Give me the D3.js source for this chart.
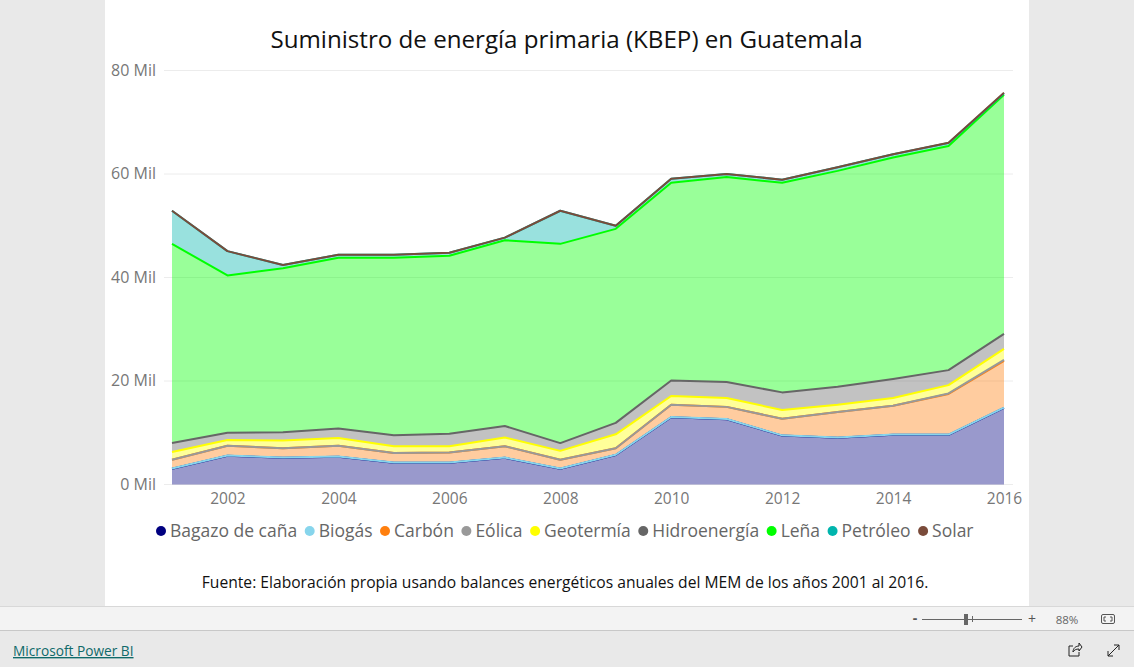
<!DOCTYPE html>
<html><head><meta charset="utf-8">
<script src="https://cdn.jsdelivr.net/npm/d3@7"></script>
<style>
html,body{margin:0;padding:0;background:#e9e9e9;overflow:hidden}
svg{display:block}
text{font-family:"Open Sans","Noto Sans",sans-serif}
</style></head><body>
<svg id="c" width="1134" height="667"></svg>
<script>
const years=[2001,2002,2003,2004,2005,2006,2007,2008,2009,2010,2011,2012,2013,2014,2015,2016];
const bagazo=[3.05,5.55,5.15,5.35,4.2,4.2,5.15,3.05,5.7,13.0,12.6,9.45,9.05,9.6,9.6,14.8];
const biogas=[0.05,0.05,0.05,0.05,0.05,0.05,0.05,0.05,0.05,0.05,0.05,0.05,0.05,0.05,0.05,0.05];
const carbon=[1.7,1.9,1.8,2.1,1.85,1.95,2.2,1.7,1.25,2.35,2.35,3.2,4.9,5.55,7.85,9.05];
const eolica=[0,0,0,0,0,0,0,0,0,0,0,0,0,0,0.1,0.2];
const geotermia=[1.5,1.1,1.5,1.5,1.3,1.2,1.7,1.7,2.7,1.7,1.7,1.7,1.4,1.5,1.6,2.1];
const hidro=[1.7,1.4,1.6,1.8,2.1,2.4,2.2,1.5,2.2,3.0,3.1,3.4,3.5,3.7,2.9,2.9];
const lena=[38.5,30.4,31.7,33.0,34.3,34.4,35.9,38.5,37.5,38.2,39.6,40.5,41.7,42.8,43.3,46.2];
const petroleo=[6.4,4.7,0.6,0.6,0.6,0.6,0.5,6.4,0.6,0.8,0.6,0.6,0.7,0.6,0.6,0.3];
const solar=[0,0,0,0,0,0,0,0,0,0,0,0,0,0,0.05,0.1];
const seriesNames=["Bagazo de caña","Biogás","Carbón","Eólica","Geotermía","Hidroenergía","Leña","Petróleo","Solar"];
const seriesValues=[bagazo,biogas,carbon,eolica,geotermia,hidro,lena,petroleo,solar];
const seriesColors=["#000080","#87d5ec","#ff7f0e","#999999","#ffff00","#666666","#00ff00","#00b5ad","#7a4b3a"];
const yTicks=[0,20,40,60,80];
const xTicks=[2002,2004,2006,2008,2010,2012,2014,2016];
const titleText="Suministro de energía primaria (KBEP) en Guatemala";
const sourceText="Fuente: Elaboración propia usando balances energéticos anuales del MEM de los años 2001 al 2016.";

const svg=d3.select("#c");
svg.append("rect").attr("x",105).attr("y",0).attr("width",924).attr("height",606).attr("fill","#fff");
svg.append("rect").attr("x",0).attr("y",607).attr("width",1134).attr("height",23).attr("fill","#f3f3f3");
svg.append("rect").attr("x",0).attr("y",606).attr("width",1134).attr("height",1).attr("fill","#d8d8d8");
svg.append("rect").attr("x",0).attr("y",630).attr("width",1134).attr("height",1).attr("fill","#c8c8c8");

const x=d3.scaleLinear().domain([2001,2016]).range([172,1004]);
const y=d3.scaleLinear().domain([0,80]).range([484.5,70.5]);

svg.append("text").attr("x",566.5).attr("y",47.5).attr("text-anchor","middle")
  .attr("font-size",24.15).attr("fill","#111").text(titleText);

const yAxis=d3.axisLeft(y).tickValues(yTicks).tickFormat(d=>d+" Mil").tickSize(0).tickPadding(0).offset(0);
const gy=svg.append("g").attr("transform","translate(156,0)").call(yAxis);
gy.select(".domain").remove();
gy.selectAll("text").attr("font-size",16).attr("fill","#777");

const grid=d3.axisLeft(y).tickValues(yTicks).tickSize(-849).tickFormat("").offset(0);
const gg=svg.append("g").attr("transform","translate(164,0)").call(grid);
gg.select(".domain").remove();
gg.selectAll("line").attr("stroke","#ececec");

const xAxis=d3.axisBottom(x).tickValues(xTicks).tickFormat(d3.format("d")).tickSize(0).tickPadding(0);
const gx=svg.append("g").attr("transform","translate(0,493)").call(xAxis);
gx.select(".domain").remove();
gx.selectAll("text").attr("font-size",15.5).attr("fill","#777");

const rows=years.map((yr,i)=>{const r={year:yr};seriesNames.forEach((n,k)=>r[n]=seriesValues[k][i]);return r;});
const stacked=d3.stack().keys(seriesNames)(rows);
const area=d3.area().x(d=>x(d.data.year)).y0(d=>y(d[0])).y1(d=>y(d[1]));
const line=d3.line().x(d=>x(d.data.year)).y(d=>y(d[1]));
svg.append("g").selectAll("path").data(stacked).join("path")
  .attr("d",area).attr("fill",(d,i)=>seriesColors[i]).attr("fill-opacity",0.4);
svg.append("g").selectAll("path").data(stacked).join("path")
  .attr("d",line).attr("fill","none").attr("stroke",(d,i)=>seriesColors[i]).attr("stroke-width",2).attr("stroke-linejoin","round");

// legend
const lg=svg.append("g").attr("transform","translate(0,531)");
let lx=156;
seriesNames.forEach((n,i)=>{
  const g=lg.append("g");
  g.append("circle").attr("cx",lx+5).attr("cy",0).attr("r",5).attr("fill",seriesColors[i]);
  const t=g.append("text").attr("x",lx+14).attr("y",6).attr("font-size",17.5).attr("fill","#666").text(n);
  lx+=14+t.node().getComputedTextLength()+7.5;
});

svg.append("text").attr("x",565).attr("y",588).attr("text-anchor","middle")
  .attr("font-size",15.65).attr("fill","#111").text(sourceText);

// viewer chrome
const ch=svg.append("g");
ch.append("text").attr("x",13).attr("y",656).attr("font-size",13.7).attr("font-weight",500).attr("fill","#0f6a6a")
  .attr("text-decoration","underline").text("Microsoft Power BI");
ch.append("text").attr("x",915).attr("y",623).attr("text-anchor","middle").attr("font-size",14).attr("font-weight",700).attr("fill","#555").text("-");
ch.append("rect").attr("x",922).attr("y",619).attr("width",100).attr("height",1).attr("fill","#666");
ch.append("rect").attr("x",964).attr("y",614).attr("width",4).attr("height",11).attr("fill","#666");
ch.append("rect").attr("x",972).attr("y",616).attr("width",1).attr("height",6).attr("fill","#666");
ch.append("text").attr("x",1032).attr("y",624).attr("text-anchor","middle").attr("font-size",14).attr("fill","#555").text("+");
ch.append("text").attr("x",1067).attr("y",624).attr("text-anchor","middle").attr("font-size",11.5).attr("fill","#666").text("88%");
ch.append("rect").attr("x",1101.5).attr("y",614.5).attr("width",13).attr("height",9).attr("rx",1.5).attr("fill","none").attr("stroke","#555");
ch.append("path").attr("d","M1104 619V617H1106M1110 617H1112V619M1112 619V621H1110M1106 621H1104V619").attr("fill","none").attr("stroke","#555");
ch.append("path").attr("d","M1073 646H1069V656H1079V652M1073 652C1073 648 1076 646 1079 646V643L1082 647L1079 651V649C1076 649 1074 650 1073 652Z").attr("fill","none").attr("stroke","#222");
ch.append("path").attr("d","M1108 656L1119 645M1114 645H1119V650M1108 651V656H1113").attr("fill","none").attr("stroke","#222");
</script></body></html>
